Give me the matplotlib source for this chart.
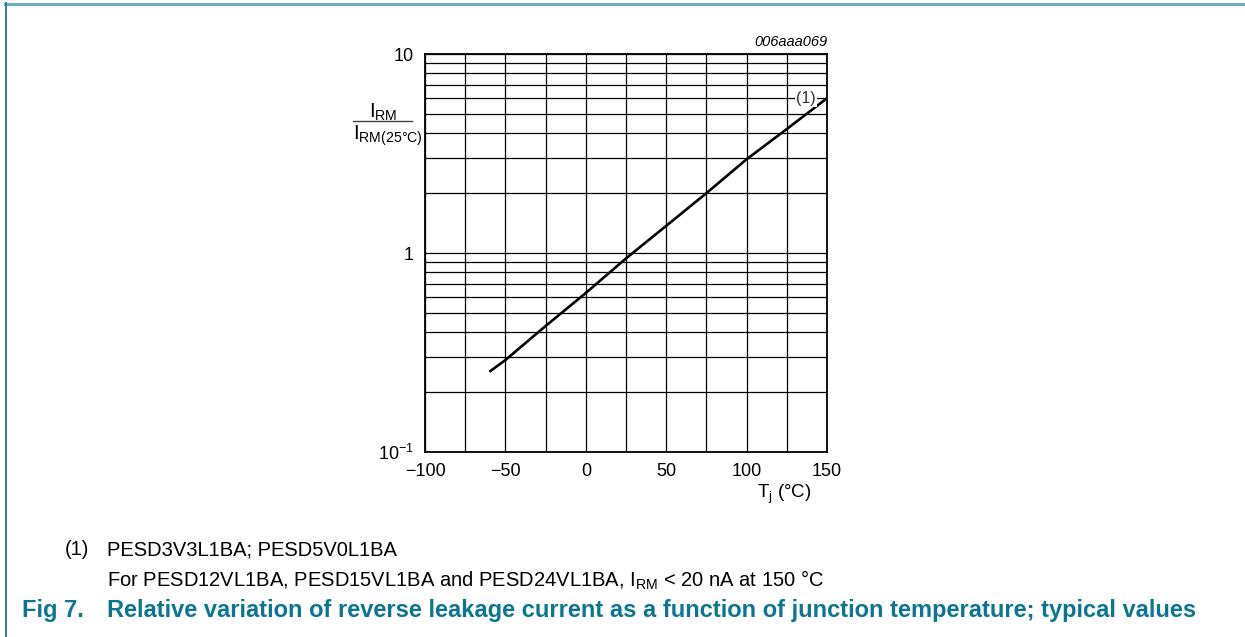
import matplotlib
matplotlib.use("Agg")
import matplotlib.pyplot as plt
from matplotlib.lines import Line2D
import numpy as np

plt.rcParams['font.family'] = ['Liberation Sans', 'DejaVu Sans']
plt.rcParams['mathtext.fontset'] = 'custom'
plt.rcParams['mathtext.rm'] = 'Liberation Sans'
plt.rcParams['mathtext.it'] = 'Liberation Sans:italic'

# curve (1)
tj = [-60, -50, -25, 0, 25, 50, 75, 100, 125, 150]
ratio = [0.253, 0.29, 0.43, 0.63, 0.94, 1.37, 2.0, 2.96, 4.2, 6.0]

x_ticks = [-100, -50, 0, 50, 100, 150]
x_tick_labels = ['\u2212100', '\u221250', '0', '50', '100', '150']
y_ticks = [0.1, 1, 10]
y_tick_labels = ['10$^{\u22121}$', '1', '10']

teal = '#0e7590'


def main() -> None:
    fig = plt.figure(figsize=(12.45, 6.37), dpi=100)
    ax = fig.add_axes([0.3414, 0.2904, 0.3229, 0.6248])

    ax.set_yscale('log')
    ax.set_xlim(-100, 150)
    ax.set_ylim(0.1, 10)

    # grid: every 25 degrees, every minor decade step
    ax.set_xticks(np.arange(-100, 151, 25), minor=True)
    ax.set_xticks(x_ticks)
    ax.set_xticklabels(x_tick_labels)
    ax.set_yticks(y_ticks)
    ax.set_yticklabels(y_tick_labels)
    ax.grid(which='both', axis='both', color='black', linewidth=0.9)
    ax.tick_params(which='both', length=0, labelsize=13)
    ax.tick_params(axis='x', pad=8)
    ax.tick_params(axis='y', pad=8)
    for s in ax.spines.values():
        s.set_linewidth(1.3)

    ax.plot(tj, ratio, color='black', linewidth=1.9, solid_capstyle='butt')

    ax.text(137, 6.0, '(1)', fontsize=11.5, color='#333333', ha='center', va='center',
            bbox=dict(facecolor='white', edgecolor='none', pad=1.0))

    ax.text(1.0, 1.012, '006aaa069', transform=ax.transAxes, ha='right', va='bottom',
            fontsize=10.5, style='italic')

    # y label as a fraction
    fig.text(0.3076, 0.8230, 'I$_{\\mathrm{RM}}$', ha='center', va='center', fontsize=14.5)
    fig.add_artist(Line2D([0.2833, 0.3307], [0.8095, 0.8095], color='#444444', linewidth=1.0,
                          transform=fig.transFigure))
    fig.text(0.3118, 0.7870, 'I$_{\\mathrm{RM(25\u00b0C)}}$', ha='center', va='center', fontsize=14.5)

    fig.text(0.6297, 0.224, 'T$_{\\mathrm{j}}$ (\u00b0C)', ha='center', va='center', fontsize=13.5)

    # notes and caption
    fig.text(0.052, 0.1285, '(1)', fontsize=14.5, va='baseline')
    fig.text(0.086, 0.1285, 'PESD3V3L1BA; PESD5V0L1BA', fontsize=14.5, va='baseline')
    fig.text(0.086, 0.089,
             'For PESD12VL1BA, PESD15VL1BA and PESD24VL1BA, I$_{\\mathrm{RM}}$ < 20 nA at 150 \u00b0C',
             fontsize=14.5, va='center')
    fig.text(0.0175, 0.041, 'Fig 7.', fontsize=17, fontweight='bold', color=teal, va='center')
    fig.text(0.086, 0.041,
             'Relative variation of reverse leakage current as a function of junction temperature; typical values',
             fontsize=17, fontweight='bold', color=teal, va='center')

    # page frame lines
    fig.add_artist(Line2D([0.004, 1.0], [0.9945, 0.9945], color='#6aaec2', linewidth=2.2,
                          transform=fig.transFigure))
    fig.add_artist(Line2D([0.0045, 0.0045], [0.0, 0.996], color='#2a7f96', linewidth=1.4,
                          transform=fig.transFigure))

    fig.savefig('out.png', dpi=100)
    return None


if __name__ == "__main__":
    main()
